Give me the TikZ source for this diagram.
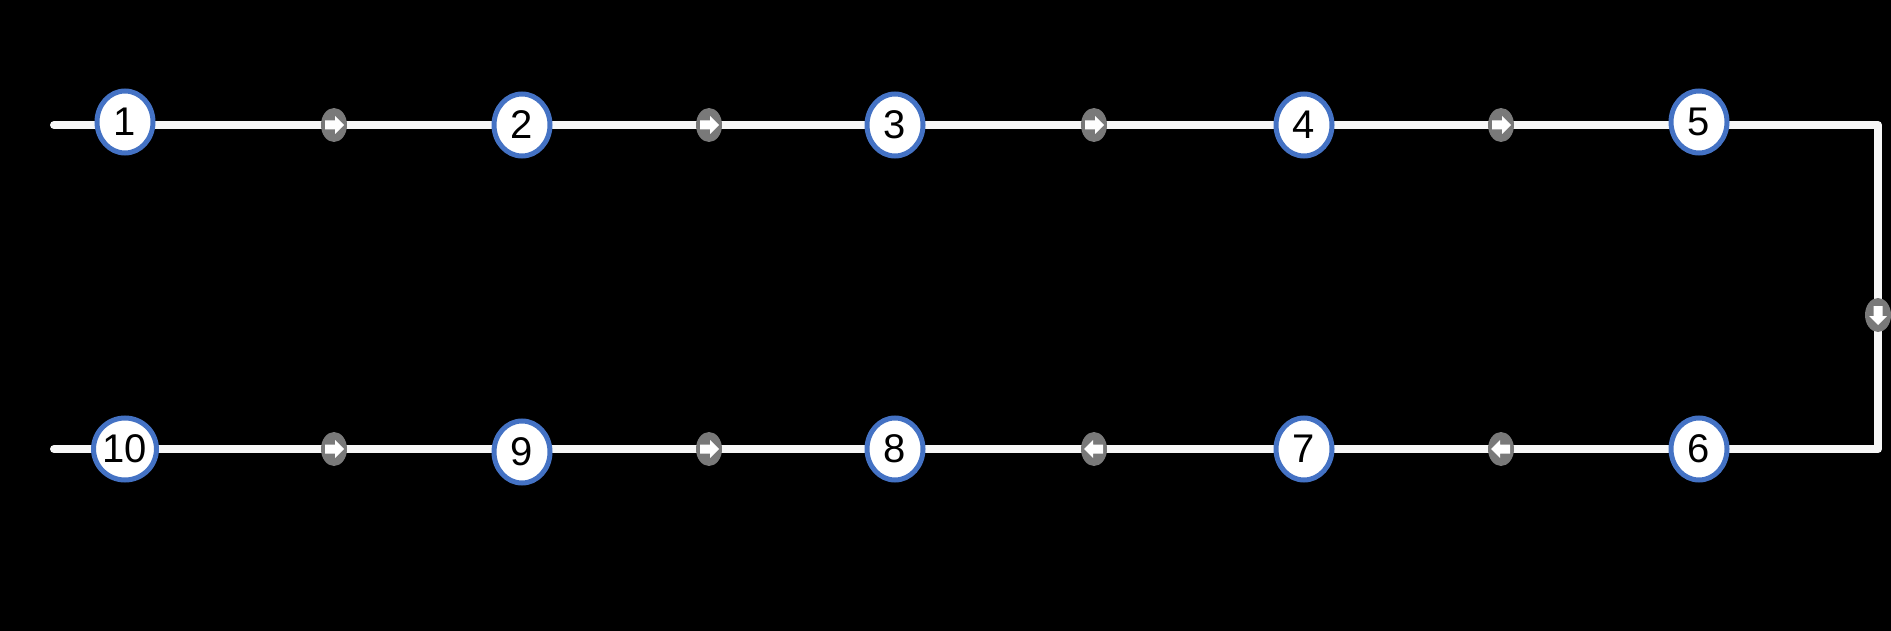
\documentclass[tikz,border=0pt]{standalone}
\usepackage{fontspec}
\setmainfont{Liberation Sans}
\usetikzlibrary{shapes.geometric}
\definecolor{ringblue}{HTML}{4472C4}
\tikzset{
  stop/.style={
    draw=ringblue, line width=5pt, fill=white, shape=ellipse,
    minimum width=56pt, minimum height=62pt, inner sep=0pt,
    font=\fontsize{40}{40}\selectfont
  },
  marker/.style={
    fill=gray!95!black, shape=ellipse, minimum width=26pt, minimum height=34pt, inner sep=0pt
  },
  tiparrow/.pic={
    \fill[white] (-9,-4.5) -- (1,-4.5) -- (1,-9) -- (10,0) -- (1,9) -- (1,4.5) -- (-9,4.5) -- cycle;
  },
  rail/.style={draw=white!94!gray, line width=8pt, line cap=round}
}
\begin{document}
\begin{tikzpicture}[x=1pt,y=-1pt]
  \fill[black] (0,0) rectangle (1891,631);
  % track
  \coordinate (start) at (54,125);
  \coordinate (turn1) at (1878,125);
  \coordinate (turn2) at (1878,449);
  \coordinate (finish) at (54,449);
  \draw[rail, line join=round] (start) -- (turn1) -- (turn2) -- (finish);
  % markers
  \foreach \x/\n in {334/a,709/b,1094/c,1501/d} {
    \node[marker] (t\n) at (\x,125) {};
    \pic[rotate=0] at (t\n) {tiparrow};
  }
  \foreach \x/\n/\r in {334/a/0,709/b/0,1094/c/180,1501/d/180} {
    \node[marker] (b\n) at (\x,449) {};
    \pic[rotate=\r] at (b\n) {tiparrow};
  }
  \node[marker] (side) at (1878,315) {};
  \pic[rotate=-90] at (side) {tiparrow};
  % stations
  \node[stop] (s1) at (125,122) {1};
  \node[stop] (s2) at (522,125) {2};
  \node[stop] (s3) at (895,125) {3};
  \node[stop] (s4) at (1304,125) {4};
  \node[stop] (s5) at (1699,122) {5};
  \node[stop] (s6) at (1699,449) {6};
  \node[stop] (s7) at (1304,449) {7};
  \node[stop] (s8) at (895,449) {8};
  \node[stop] (s9) at (522,452) {9};
  \node[stop] (s10) at (125,449) {10};
\end{tikzpicture}
\end{document}
